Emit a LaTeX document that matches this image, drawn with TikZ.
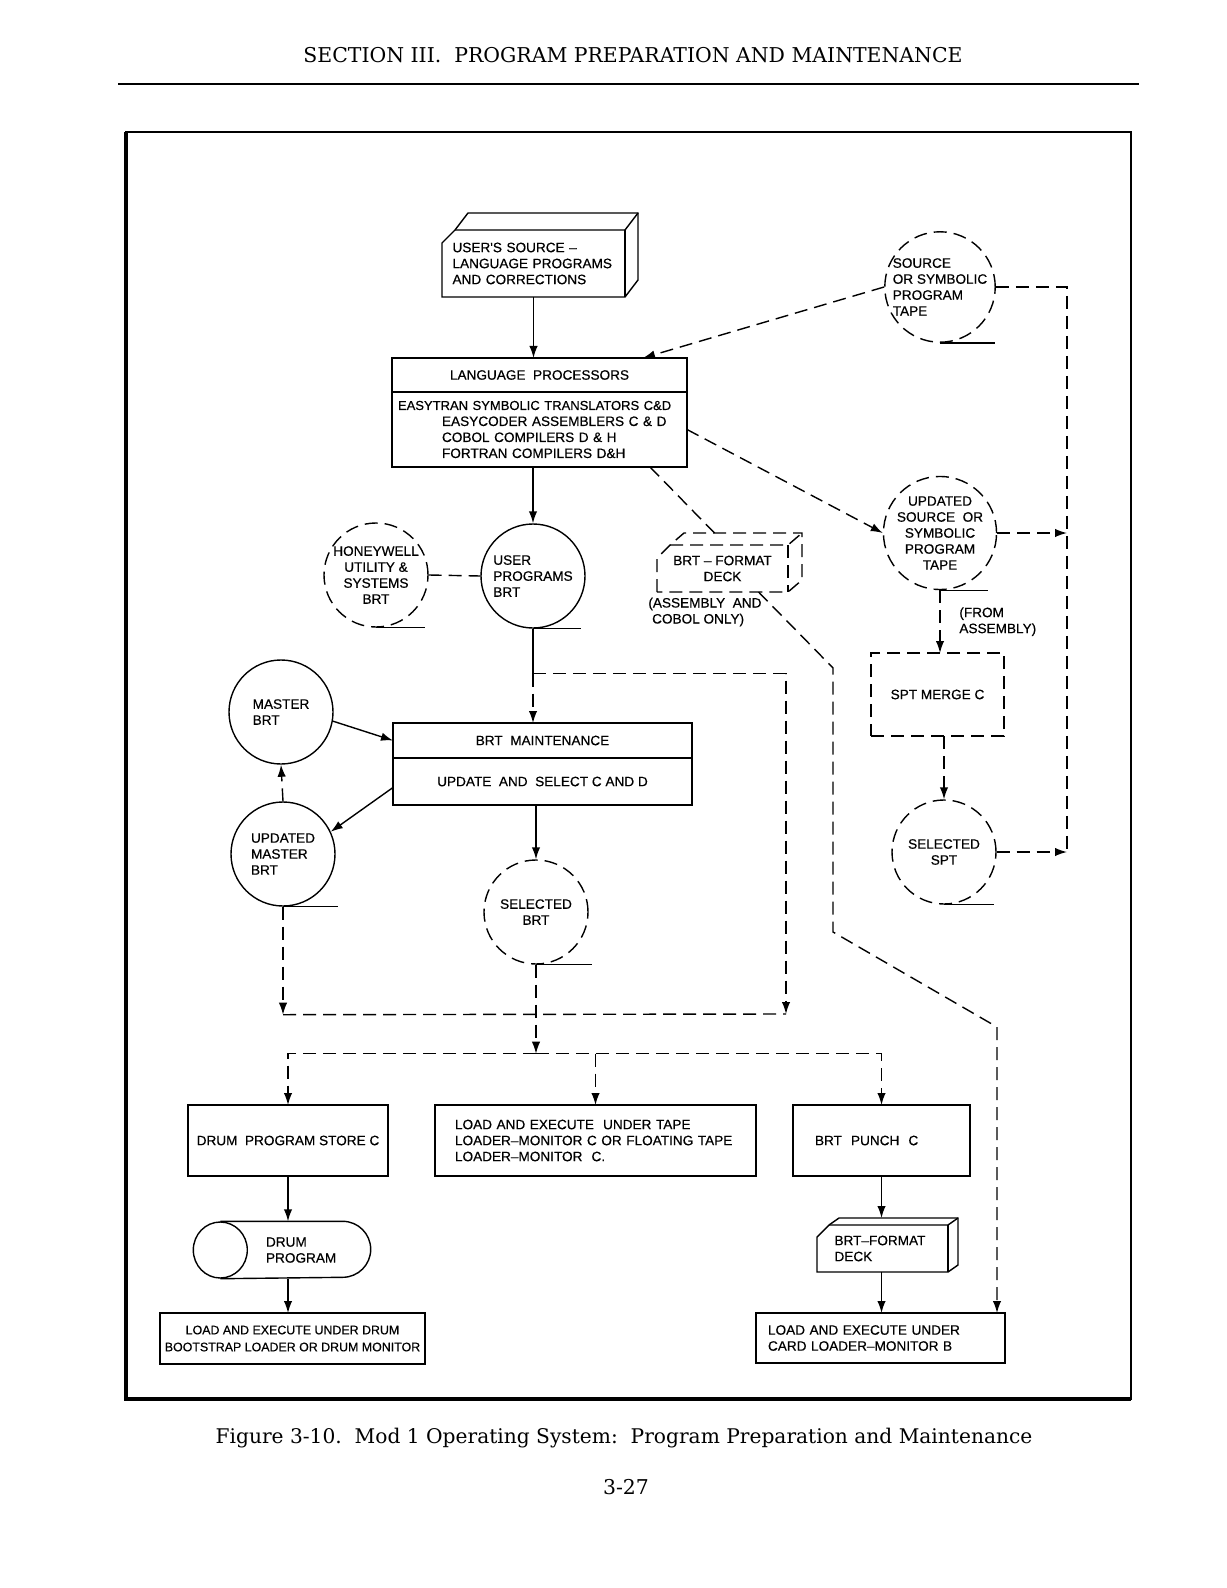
\documentclass[tikz,border=0pt]{standalone}
\usepackage{fontspec}
\setmainfont{DejaVu Serif}
\newfontfamily\lettering[FakeBold=0.5]{Liberation Sans}
\usetikzlibrary{arrows.meta, positioning, calc}

\begin{document}
\begin{tikzpicture}[x=0.5pt, y=-0.5pt, >={Latex[length=6pt,width=4.2pt]}, line width=0.7pt,
  every node/.style={font=\lettering\fontsize{6.8}{8}\selectfont},
  brk/.style={dash pattern=on 6.5pt off 3.5pt},
  box/.style={draw, rectangle, inner sep=0pt, outer sep=0pt, align=center},
  tape/.style={draw, circle, minimum size=52pt, inner sep=0pt, align=left},
  deck/.style={rectangle, inner sep=0pt, outer sep=0pt, align=left},
  pagetxt/.style={font=\fontsize{10.2}{12}\selectfont}]
\useasboundingbox (0,0) rectangle (1226,1588);

% page head and frame
\node[pagetxt] (head) at (633,55) {SECTION III.\ \ PROGRAM PREPARATION AND MAINTENANCE};
\draw[line width=1.3pt] (118,84) -- (1139,84);
\draw (126,132) rectangle (1131,1399);
\draw[line width=2pt] (126,132) -- (126,1399) -- (1131,1399);

% inputs and language processors
\node[deck, minimum width=91.5pt, minimum height=33.5pt, text width=81pt] (usrc) at (533.5,263.5)
  {USER'S SOURCE –\\LANGUAGE PROGRAMS\\AND CORRECTIONS};
\node[box, minimum width=147.5pt, minimum height=17pt] (lpt) at (539.5,375) {LANGUAGE\ \ PROCESSORS};
\node[box, minimum width=147.5pt, minimum height=37.5pt, text width=141.5pt, align=left, below=0pt of lpt] (lpb)
  {{\fontsize{6.5}{8}\selectfont EASYTRAN SYMBOLIC TRANSLATORS C\&D}\\
   \hspace*{22pt}EASYCODER ASSEMBLERS C \& D\\
   \hspace*{22pt}COBOL COMPILERS D \& H\\
   \hspace*{22pt}FORTRAN COMPILERS D\&H};
\node[tape, brk] (srctape) at (940,287) {SOURCE\\OR SYMBOLIC\\PROGRAM\\TAPE};
\node[tape, brk, align=center] (updtape) at (940,533) {UPDATED\\SOURCE\ \ OR\\SYMBOLIC\\PROGRAM\\TAPE};

% BRT files
\node[tape, brk, align=center] (hon) at (376,575) {HONEYWELL\\UTILITY \&\\SYSTEMS\\BRT};
\node[tape] (usr) at (533,576) {USER\\PROGRAMS\\BRT};
\node[deck, align=center, minimum width=65.5pt, minimum height=23.5pt] (bdeck) at (722.5,568.5) {BRT – FORMAT\\DECK};
\node[anchor=west, align=left] (asmcob) at (641,612) {(ASSEMBLY\ \ AND\\\ COBOL ONLY)};
\node[box, brk, minimum width=66.5pt, minimum height=41.5pt] (merge) at (937.5,694.5) {SPT MERGE C};
\node[tape, brk, align=center] (sspt) at (944,852) {SELECTED\\SPT};

% BRT maintenance
\node[tape] (mst) at (281,712) {MASTER\\BRT};
\node[box, minimum width=149.5pt, minimum height=17.5pt] (bmt) at (542.5,740.5) {BRT\ \ MAINTENANCE};
\node[box, minimum width=149.5pt, minimum height=23.5pt, below=0pt of bmt] (bmb) {UPDATE\ \ AND\ \ SELECT\ C\ AND\ D};
\node[tape] (umst) at (283,854) {UPDATED\\MASTER\\BRT};
\node[tape, brk, align=center] (sbrt) at (536,912) {SELECTED\\BRT};

% loading
\node[box, minimum width=100pt, minimum height=35.5pt] (dstore) at (288,1140.5) {DRUM\ \ PROGRAM STORE C};
\node[box, minimum width=160.5pt, minimum height=35.5pt, text width=140.5pt, align=left] (tapeld) at (595.5,1140.5)
  {LOAD AND EXECUTE\ \ UNDER TAPE\\LOADER–MONITOR C OR FLOATING TAPE\\LOADER–MONITOR\ \ C.};
\node[box, minimum width=88.5pt, minimum height=35.5pt, text width=66.5pt, align=left] (punch) at (881.5,1140.5) {BRT\ \ PUNCH\ \ C};
\node[rectangle, inner sep=0pt, minimum width=88pt, minimum height=28pt, text width=88pt, align=left] (drum) at (282,1250)
  {\hspace*{36pt}DRUM\\\hspace*{36pt}PROGRAM};
\node[deck, minimum width=65.5pt, minimum height=23.5pt, text width=48pt] (bdeck2) at (882.5,1248.5) {BRT–FORMAT\\DECK};
\node[box, minimum width=132.5pt, minimum height=25.5pt, font=\lettering\fontsize{6.2}{8.5}\selectfont] (drumld) at (292.5,1338.5)
  {LOAD AND EXECUTE UNDER DRUM\\BOOTSTRAP LOADER OR DRUM MONITOR};
\node[box, minimum width=124.5pt, minimum height=25pt, text width=112.5pt, align=left] (cardld) at (880.5,1338)
  {LOAD AND EXECUTE UNDER\\CARD LOADER–MONITOR B};

% card decks and drum outlines
\draw (usrc.south west) -- ($(usrc.north west)+(0,13)$) -- ($(usrc.north west)+(13,0)$) -- ($(usrc.north west)+(26,-17)$)
  -- ($(usrc.north east)+(13,-17)$) -- ($(usrc.south east)+(13,-17)$) -- (usrc.south east) -- cycle;
\draw ($(usrc.north west)+(13,0)$) -- (usrc.north east) -- ++(13,-17);
\draw (usrc.north east) -- (usrc.south east);
\draw[brk] (bdeck.south west) -- ($(bdeck.north west)+(0,13)$) -- ($(bdeck.north west)+(13,0)$) -- ($(bdeck.north west)+(27,-12)$)
  -- ($(bdeck.north east)+(14,-12)$) -- ($(bdeck.south east)+(14,-12)$) -- (bdeck.south east) -- cycle;
\draw[brk] ($(bdeck.north west)+(13,0)$) -- (bdeck.north east) -- ++(14,-12);
\draw[brk] (bdeck.north east) -- (bdeck.south east);
\draw (bdeck2.south west) -- ($(bdeck2.north west)+(0,12)$) -- ($(bdeck2.north west)+(12,0)$) -- ($(bdeck2.north west)+(22,-7)$)
  -- ($(bdeck2.north east)+(10,-7)$) -- ($(bdeck2.south east)+(10,-7)$) -- (bdeck2.south east) -- cycle;
\draw ($(bdeck2.north west)+(12,0)$) -- (bdeck2.north east) -- ++(10,-7);
\draw (bdeck2.north east) -- (bdeck2.south east);
\draw ($(drum.west)+(27,0)$) ellipse [x radius=13.5pt, y radius=14pt];
\draw ($(drum.north west)+(27,0)$) -- ($(drum.north east)+(-28,0)$) arc[start angle=90, end angle=-90, radius=14pt]
  -- ($(drum.south west)+(27,0)$);

% tape tails
\draw (srctape.south) -- ++(55,0);
\draw (updtape.south) -- ++(48,0);
\draw (hon.south) -- ++(49,0);
\draw (usr.south) -- ++(48,0);
\draw (umst.south) -- ++(55,0);
\draw (sbrt.south) -- ++(56,0);
\draw (sspt.south) -- ++(50,0);

% connectors
\coordinate (lpin) at ($(lpt.north east)+(-44,0)$);
\coordinate (rbus) at (1067,853);
\draw[->] (usrc.south) -- (usrc.south |- lpt.north);
\draw[->, brk] (srctape.west) -- (lpin);
\draw[brk] (srctape.east) -| (rbus);
\draw[->, brk] (lpb.east) -- (updtape.west);
\draw[->, brk] (updtape.east) -- (updtape.east -| rbus);
\draw[->, brk] (updtape.south) -- node[right, xshift=6pt, align=left] (fromasm) {(FROM\\ASSEMBLY)} (updtape.south |- merge.north);
\draw[->, brk] (sspt.north |- merge.south) -- (sspt.north);
\draw[->, brk] (sspt.east) -- (sspt.east -| rbus);

\draw[->] (usr.north |- lpb.south) -- (usr.north);
\draw[brk] ($(lpb.south west)+(258,0)$) -- ($(bdeck.north)+(-8,-12)$);
\draw[brk] (hon.east) -- (usr.west);
\coordinate (k1) at (833,668);
\coordinate (k2) at (833,932);
\coordinate (k3) at (997,1027);
\draw[->, brk] ($(bdeck.south)+(36,0)$) -- (k1) -- (k2) -- (k3) -- (k3 |- cardld.north);

\coordinate (j1) at ($(usr.south)+(0,45)$);
\coordinate (busR) at (786,1014);
\coordinate (busL) at ($(umst.south)+(0,108)$);
\draw (usr.south) -- (j1);
\draw[->, brk] (j1) -- (j1 |- bmt.north);
\draw[->, brk] (j1) -| (busR);
\draw[->, brk] (umst.south) -- (busL);
\draw[brk] (busL) -- (busR);
\draw[->] (mst.-10) -- (bmt.west);
\draw[->] ($(bmb.west)+(0,6)$) -- (umst.25);
\draw[->, brk] (umst.north) -- (mst.south);
\draw[->] (sbrt.north |- bmb.south) -- (sbrt.north);

\coordinate (b2) at ($(sbrt.south)+(0,89)$);
\draw[->, brk] (sbrt.south) -- (b2);
\draw[->, brk] (b2) -| (dstore.north);
\draw[->, brk] (b2) -| (punch.north);
\draw[->, brk] (tapeld.north |- b2) -- (tapeld.north);
\draw[->] (dstore.south) -- (dstore.south |- drum.north);
\draw[->] (dstore.south |- drum.south) -- (dstore.south |- drumld.north);
\draw[->] (punch.south) -- ($(punch.south |- bdeck2.north)+(0,-7)$);
\draw[->] (punch.south |- bdeck2.south) -- (punch.south |- cardld.north);

% caption
\node[pagetxt, font=\fontsize{10.1}{12}\selectfont] (caption) at (624,1438) {Figure 3-10.\ \ Mod 1 Operating System:\ \ Program Preparation and Maintenance};
\node[pagetxt] (pageno) at (626,1487) {3-27};
\end{tikzpicture}
\end{document}
